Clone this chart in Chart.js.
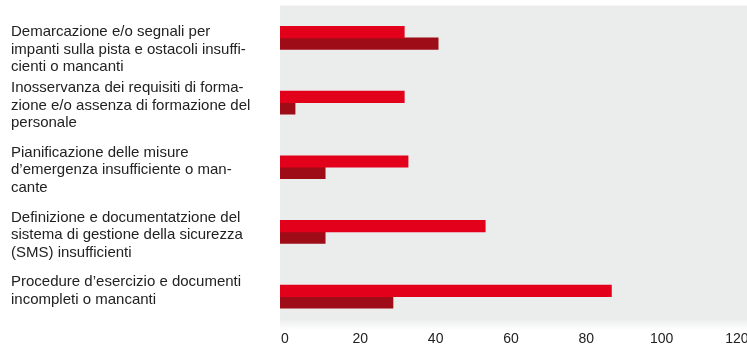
<!DOCTYPE html>
<html>
<head>
<meta charset="utf-8">
<script src="https://cdn.jsdelivr.net/npm/chart.js@4/dist/chart.umd.min.js"></script>
<style>
  html, body { margin: 0; padding: 0; background: #ffffff; }
  #wrap { position: relative; width: 747px; height: 347px; overflow: hidden; }
</style>
</head>
<body>
<div id="wrap"><canvas id="c"></canvas></div>
<script>
const categories = [
  ["Demarcazione e/o segnali per", "impanti sulla pista e ostacoli insuffi-", "cienti o mancanti"],
  ["Inosservanza dei requisiti di forma-", "zione e/o assenza di formazione del", "personale"],
  ["Pianificazione delle misure", "d\u2019emergenza insufficiente o man-", "cante"],
  ["Definizione e documentatzione del", "sistema di gestione della sicurezza", "(SMS) insufficienti"],
  ["Procedure d\u2019esercizio e documenti", "incompleti o mancanti"]
];
const seriesA = [33, 33, 34, 54.5, 88];
const seriesB = [42, 4, 12, 12, 30];
const xTicks = [0, 20, 40, 60, 80, 100, 120];

// blank-line nudges so label blocks sit like in the original layout
const padLinesTop = [1, 0, 0, 0, 0];
const padLinesBottom = [0, 0, 0, 0, 1];

const bgPlugin = {
  id: 'plotBg',
  beforeDraw(chart) {
    const { ctx, chartArea: a } = chart;
    ctx.save();
    const g = ctx.createLinearGradient(0, a.bottom - 10, 0, a.bottom + 1);
    g.addColorStop(0, '#ebecec');
    g.addColorStop(1, '#ffffff');
    ctx.fillStyle = '#ebecec';
    ctx.fillRect(a.left, a.top, a.right - a.left, a.bottom - 10 - a.top);
    ctx.fillStyle = g;
    ctx.fillRect(a.left, a.bottom - 10, a.right - a.left, 11);
    ctx.restore();
  }
};

new Chart(document.getElementById('c'), {
  type: 'bar',
  data: {
    labels: categories,
    datasets: [
      { label: 'A', data: seriesA, backgroundColor: '#e2001a', barThickness: 11.5 },
      { label: 'B', data: seriesB, backgroundColor: '#9e0c17', barThickness: 11.5 }
    ]
  },
  options: {
    indexAxis: 'y',
    responsive: true,
    maintainAspectRatio: false,
    animation: false,
    layout: { padding: { left: 11, top: 5.5, right: 0, bottom: 0 } },
    plugins: { legend: { display: false }, tooltip: { enabled: false } },
    scales: {
      x: {
        type: 'linear',
        min: 0,
        max: 124,
        grid: { display: false, drawTicks: false },
        border: { display: false },
        afterBuildTicks(scale) {
          scale.ticks = xTicks.map(v => ({ value: v }));
        },
        afterFit(scale) {
          scale.height = 18;
          scale.paddingLeft = 0;
          scale.paddingRight = 0;
        },
        ticks: {
          padding: 2,
          labelOffset: 5,
          color: '#222222',
          font: { family: 'Liberation Sans, Arial, sans-serif', size: 14 }
        }
      },
      y: {
        type: 'category',
        grid: { display: false, drawTicks: false },
        border: { display: false },
        afterFit(scale) {
          scale.width = 269;
          scale.paddingTop = 0;
          scale.paddingBottom = 0;
        },
        ticks: {
          autoSkip: false,
          crossAlign: 'far',
          labelOffset: 3,
          color: '#222222',
          font: { family: 'Liberation Sans, Arial, sans-serif', size: 15, lineHeight: 1.167 },
          callback(value, index) {
            const lines = categories[index].slice();
            for (let i = 0; i < padLinesTop[index]; i++) lines.unshift('');
            for (let i = 0; i < padLinesBottom[index]; i++) lines.push('');
            return lines;
          }
        }
      }
    }
  },
  plugins: [bgPlugin]
});
</script>
</body>
</html>
